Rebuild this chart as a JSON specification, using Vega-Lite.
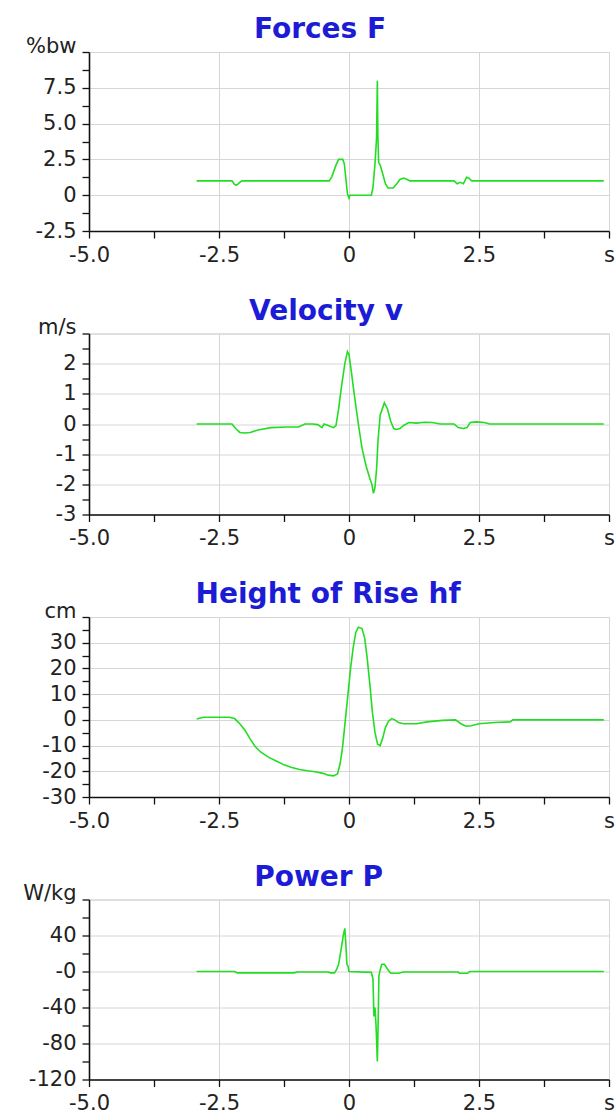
{
  "$schema": "https://vega.github.io/schema/vega-lite/v6.json",
  "padding": {"left": 22, "top": 15, "right": 0, "bottom": 0},
  "spacing": 30.5,
  "datasets": {
    "force": [
      {"t": -2.93, "v": 1.0}, {"t": -2.25, "v": 1.0}, {"t": -2.2, "v": 0.75}, {"t": -2.16, "v": 0.7}, {"t": -2.1, "v": 0.9}, {"t": -2.06, "v": 1.0},
      {"t": -0.38, "v": 1.0}, {"t": -0.33, "v": 1.3}, {"t": -0.25, "v": 2.1}, {"t": -0.2, "v": 2.5}, {"t": -0.12, "v": 2.5}, {"t": -0.09, "v": 2.2},
      {"t": -0.05, "v": 0.8}, {"t": -0.03, "v": 0.1}, {"t": 0.0, "v": -0.2}, {"t": 0.02, "v": 0.0}, {"t": 0.43, "v": 0.0}, {"t": 0.46, "v": 0.5},
      {"t": 0.5, "v": 2.2}, {"t": 0.53, "v": 4.0}, {"t": 0.545, "v": 8.0}, {"t": 0.555, "v": 4.2}, {"t": 0.57, "v": 2.3}, {"t": 0.6, "v": 2.1},
      {"t": 0.64, "v": 1.6}, {"t": 0.7, "v": 0.8}, {"t": 0.75, "v": 0.5}, {"t": 0.85, "v": 0.5}, {"t": 0.92, "v": 0.8}, {"t": 0.98, "v": 1.1},
      {"t": 1.05, "v": 1.2}, {"t": 1.12, "v": 1.1}, {"t": 1.17, "v": 1.0}, {"t": 2.02, "v": 1.0}, {"t": 2.08, "v": 0.8}, {"t": 2.14, "v": 0.9},
      {"t": 2.2, "v": 0.8}, {"t": 2.26, "v": 1.25}, {"t": 2.3, "v": 1.2}, {"t": 2.36, "v": 1.0}, {"t": 4.9, "v": 1.0}
    ],
    "velocity": [
      {"t": -2.93, "v": 0}, {"t": -2.25, "v": 0}, {"t": -2.18, "v": -0.15}, {"t": -2.1, "v": -0.28}, {"t": -2.0, "v": -0.3}, {"t": -1.9, "v": -0.28},
      {"t": -1.75, "v": -0.2}, {"t": -1.5, "v": -0.12}, {"t": -1.2, "v": -0.1}, {"t": -0.97, "v": -0.1}, {"t": -0.85, "v": 0.0}, {"t": -0.7, "v": 0.0},
      {"t": -0.6, "v": -0.02}, {"t": -0.52, "v": -0.12}, {"t": -0.48, "v": 0.0}, {"t": -0.4, "v": -0.05}, {"t": -0.3, "v": -0.12}, {"t": -0.25, "v": -0.05},
      {"t": -0.2, "v": 0.5}, {"t": -0.14, "v": 1.3}, {"t": -0.08, "v": 2.0}, {"t": -0.03, "v": 2.4}, {"t": 0.0, "v": 2.3}, {"t": 0.04, "v": 1.8},
      {"t": 0.1, "v": 1.0}, {"t": 0.18, "v": 0.0}, {"t": 0.25, "v": -0.8}, {"t": 0.33, "v": -1.4}, {"t": 0.4, "v": -1.8}, {"t": 0.44, "v": -2.0},
      {"t": 0.47, "v": -2.3}, {"t": 0.5, "v": -2.1}, {"t": 0.53, "v": -1.5}, {"t": 0.56, "v": -0.5}, {"t": 0.6, "v": 0.3}, {"t": 0.68, "v": 0.7},
      {"t": 0.74, "v": 0.5}, {"t": 0.8, "v": 0.1}, {"t": 0.86, "v": -0.15}, {"t": 0.91, "v": -0.18}, {"t": 0.98, "v": -0.15}, {"t": 1.05, "v": -0.05},
      {"t": 1.15, "v": 0.05}, {"t": 1.3, "v": 0.03}, {"t": 1.45, "v": 0.06}, {"t": 1.6, "v": 0.05}, {"t": 1.75, "v": 0.0}, {"t": 2.02, "v": 0.0},
      {"t": 2.1, "v": -0.12}, {"t": 2.2, "v": -0.15}, {"t": 2.27, "v": -0.12}, {"t": 2.33, "v": 0.05}, {"t": 2.45, "v": 0.07}, {"t": 2.6, "v": 0.05},
      {"t": 2.7, "v": 0.0}, {"t": 4.9, "v": 0.0}
    ],
    "height": [
      {"t": -2.93, "v": 0.3}, {"t": -2.8, "v": 1.0}, {"t": -2.3, "v": 1.0}, {"t": -2.2, "v": 0.5}, {"t": -2.1, "v": -1.5}, {"t": -2.0, "v": -4},
      {"t": -1.9, "v": -7.5}, {"t": -1.8, "v": -10.5}, {"t": -1.7, "v": -12.5}, {"t": -1.55, "v": -14.5}, {"t": -1.4, "v": -16}, {"t": -1.25, "v": -17.5},
      {"t": -1.1, "v": -18.5}, {"t": -0.95, "v": -19.3}, {"t": -0.8, "v": -19.8}, {"t": -0.65, "v": -20.2}, {"t": -0.5, "v": -20.8}, {"t": -0.4, "v": -21.5},
      {"t": -0.3, "v": -21.8}, {"t": -0.22, "v": -21}, {"t": -0.17, "v": -17}, {"t": -0.12, "v": -10}, {"t": -0.07, "v": 0}, {"t": -0.02, "v": 10},
      {"t": 0.03, "v": 20}, {"t": 0.08, "v": 28}, {"t": 0.13, "v": 34}, {"t": 0.18, "v": 36}, {"t": 0.25, "v": 35.5}, {"t": 0.3, "v": 32},
      {"t": 0.35, "v": 24}, {"t": 0.4, "v": 14}, {"t": 0.45, "v": 3}, {"t": 0.5, "v": -5}, {"t": 0.55, "v": -9.5}, {"t": 0.6, "v": -10},
      {"t": 0.65, "v": -7}, {"t": 0.7, "v": -3}, {"t": 0.76, "v": -0.5}, {"t": 0.82, "v": 0.5}, {"t": 0.88, "v": 0}, {"t": 0.95, "v": -1},
      {"t": 1.05, "v": -1.5}, {"t": 1.3, "v": -1.5}, {"t": 1.5, "v": -0.8}, {"t": 1.8, "v": -0.2}, {"t": 2.05, "v": 0}, {"t": 2.15, "v": -1.5},
      {"t": 2.25, "v": -2.5}, {"t": 2.35, "v": -2.3}, {"t": 2.5, "v": -1.5}, {"t": 2.8, "v": -1.0}, {"t": 3.1, "v": -0.8}, {"t": 3.15, "v": 0},
      {"t": 4.9, "v": 0}
    ],
    "power": [
      {"t": -2.93, "v": 0}, {"t": -2.2, "v": 0}, {"t": -2.15, "v": -1.5}, {"t": -1.05, "v": -1.5}, {"t": -1.0, "v": -0.5}, {"t": -0.4, "v": -0.5},
      {"t": -0.36, "v": -1.5}, {"t": -0.28, "v": -1.5}, {"t": -0.24, "v": 2}, {"t": -0.2, "v": 8}, {"t": -0.15, "v": 25}, {"t": -0.11, "v": 40},
      {"t": -0.08, "v": 48}, {"t": -0.06, "v": 30}, {"t": -0.04, "v": 8}, {"t": -0.02, "v": 6}, {"t": 0.0, "v": 0}, {"t": 0.43, "v": -1},
      {"t": 0.46, "v": -8}, {"t": 0.48, "v": -50}, {"t": 0.5, "v": -40}, {"t": 0.52, "v": -60}, {"t": 0.545, "v": -100}, {"t": 0.56, "v": -60},
      {"t": 0.575, "v": -5}, {"t": 0.6, "v": 2}, {"t": 0.63, "v": 8}, {"t": 0.68, "v": 8}, {"t": 0.75, "v": 2}, {"t": 0.8, "v": -2},
      {"t": 0.95, "v": -2}, {"t": 1.05, "v": -0.5}, {"t": 2.1, "v": -0.5}, {"t": 2.12, "v": -2}, {"t": 2.28, "v": -2}, {"t": 2.32, "v": 0},
      {"t": 4.9, "v": 0}
    ]
  },
  "config": {
    "font": "DejaVu Sans",
    "view": {"stroke": "#d4d4d4"},
    "axis": {
      "title": null,
      "domainColor": "#111111",
      "domainWidth": 1.6,
      "tickColor": "#111111",
      "tickWidth": 1.3,
      "tickSize": 7,
      "labelFont": "DejaVu Sans",
      "labelFontSize": 21,
      "labelColor": "#222222",
      "labelPadding": 6,
      "labelOverlap": false,
      "labelFlush": false,
      "labelBound": false,
      "gridColor": "#d6d6d6",
      "gridWidth": 1
    },
    "title": {
      "font": "DejaVu Sans",
      "fontSize": 28,
      "fontWeight": "bold",
      "color": "#1c1cd6",
      "anchor": "middle",
      "frame": "bounds",
      "baseline": "alphabetic",
      "offset": -9
    }
  },
  "vconcat": [
    {
      "data": {"name": "force"},
      "title": "Forces F",
      "width": 520,
      "height": 179,
      "mark": {"type": "line", "color": "#22dd22", "strokeWidth": 1.6},
      "encoding": {
        "x": {
          "field": "t", "type": "quantitative",
          "scale": {"domain": [-5, 5], "nice": false, "zero": false},
          "axis": {
            "values": [-5, -3.75, -2.5, -1.25, 0, 1.25, 2.5, 3.75, 5],
            "labelExpr": "datum.value == 5 ? 's' : datum.value == 0 ? '0' : (datum.value % 2.5 != 0 ? '' : (datum.value % 1 == 0 ? datum.value + '.0' : '' + datum.value))",
            "gridOpacity": {"condition": {"test": "datum.value % 2.5 != 0", "value": 0}, "value": 1}
          }
        },
        "y": {
          "field": "v", "type": "quantitative",
          "scale": {"domain": [-2.5, 10], "nice": false, "zero": false},
          "axis": {
            "values": [-2.5, -1.25, 0, 1.25, 2.5, 3.75, 5, 6.25, 7.5, 8.75, 10],
            "labelExpr": "datum.value == 10 ? '%bw' : datum.value == 0 ? '0' : (datum.value % 2.5 != 0 ? '' : (datum.value % 1 == 0 ? datum.value + '.0' : '' + datum.value))",
            "labelBaseline": {"condition": {"test": "datum.value == 10", "value": "alphabetic"}, "value": "middle"},
            "gridOpacity": {"condition": {"test": "datum.value % 2.5 != 0", "value": 0}, "value": 1}
          }
        }
      }
    },
    {
      "data": {"name": "velocity"},
      "title": "Velocity v",
      "width": 520,
      "height": 181,
      "mark": {"type": "line", "color": "#22dd22", "strokeWidth": 1.6},
      "encoding": {
        "x": {
          "field": "t", "type": "quantitative",
          "scale": {"domain": [-5, 5], "nice": false, "zero": false},
          "axis": {
            "values": [-5, -3.75, -2.5, -1.25, 0, 1.25, 2.5, 3.75, 5],
            "labelExpr": "datum.value == 5 ? 's' : datum.value == 0 ? '0' : (datum.value % 2.5 != 0 ? '' : (datum.value % 1 == 0 ? datum.value + '.0' : '' + datum.value))",
            "gridOpacity": {"condition": {"test": "datum.value % 2.5 != 0", "value": 0}, "value": 1}
          }
        },
        "y": {
          "field": "v", "type": "quantitative",
          "scale": {"domain": [-3, 3], "nice": false, "zero": false},
          "axis": {
            "values": [-3, -2.5, -2, -1.5, -1, -0.5, 0, 0.5, 1, 1.5, 2, 2.5, 3],
            "labelExpr": "datum.value == 3 ? 'm/s' : (datum.value % 1 != 0 ? '' : '' + datum.value)",
            "labelBaseline": {"condition": {"test": "datum.value == 3", "value": "alphabetic"}, "value": "middle"},
            "gridOpacity": {"condition": {"test": "datum.value % 1 != 0", "value": 0}, "value": 1}
          }
        }
      }
    },
    {
      "data": {"name": "height"},
      "title": "Height of Rise hf",
      "width": 520,
      "height": 180,
      "mark": {"type": "line", "color": "#22dd22", "strokeWidth": 1.6},
      "encoding": {
        "x": {
          "field": "t", "type": "quantitative",
          "scale": {"domain": [-5, 5], "nice": false, "zero": false},
          "axis": {
            "values": [-5, -3.75, -2.5, -1.25, 0, 1.25, 2.5, 3.75, 5],
            "labelExpr": "datum.value == 5 ? 's' : datum.value == 0 ? '0' : (datum.value % 2.5 != 0 ? '' : (datum.value % 1 == 0 ? datum.value + '.0' : '' + datum.value))",
            "gridOpacity": {"condition": {"test": "datum.value % 2.5 != 0", "value": 0}, "value": 1}
          }
        },
        "y": {
          "field": "v", "type": "quantitative",
          "scale": {"domain": [-30, 40], "nice": false, "zero": false},
          "axis": {
            "values": [-30, -25, -20, -15, -10, -5, 0, 5, 10, 15, 20, 25, 30, 35, 40],
            "labelExpr": "datum.value == 40 ? 'cm' : (datum.value % 10 != 0 ? '' : '' + datum.value)",
            "labelBaseline": {"condition": {"test": "datum.value == 40", "value": "alphabetic"}, "value": "middle"},
            "gridOpacity": {"condition": {"test": "datum.value % 10 != 0", "value": 0}, "value": 1}
          }
        }
      }
    },
    {
      "data": {"name": "power"},
      "title": "Power P",
      "width": 520,
      "height": 180,
      "mark": {"type": "line", "color": "#22dd22", "strokeWidth": 1.6},
      "encoding": {
        "x": {
          "field": "t", "type": "quantitative",
          "scale": {"domain": [-5, 5], "nice": false, "zero": false},
          "axis": {
            "values": [-5, -3.75, -2.5, -1.25, 0, 1.25, 2.5, 3.75, 5],
            "labelExpr": "datum.value == 5 ? 's' : datum.value == 0 ? '0' : (datum.value % 2.5 != 0 ? '' : (datum.value % 1 == 0 ? datum.value + '.0' : '' + datum.value))",
            "gridOpacity": {"condition": {"test": "datum.value % 2.5 != 0", "value": 0}, "value": 1}
          }
        },
        "y": {
          "field": "v", "type": "quantitative",
          "scale": {"domain": [-120, 80], "nice": false, "zero": false},
          "axis": {
            "values": [-120, -100, -80, -60, -40, -20, 0, 20, 40, 60, 80],
            "labelExpr": "datum.value == 80 ? 'W/kg' : datum.value == 0 ? '-0' : (datum.value % 40 != 0 ? '' : '' + datum.value)",
            "labelBaseline": {"condition": {"test": "datum.value == 80", "value": "alphabetic"}, "value": "middle"},
            "gridOpacity": {"condition": {"test": "datum.value % 40 != 0", "value": 0}, "value": 1}
          }
        }
      }
    }
  ]
}
